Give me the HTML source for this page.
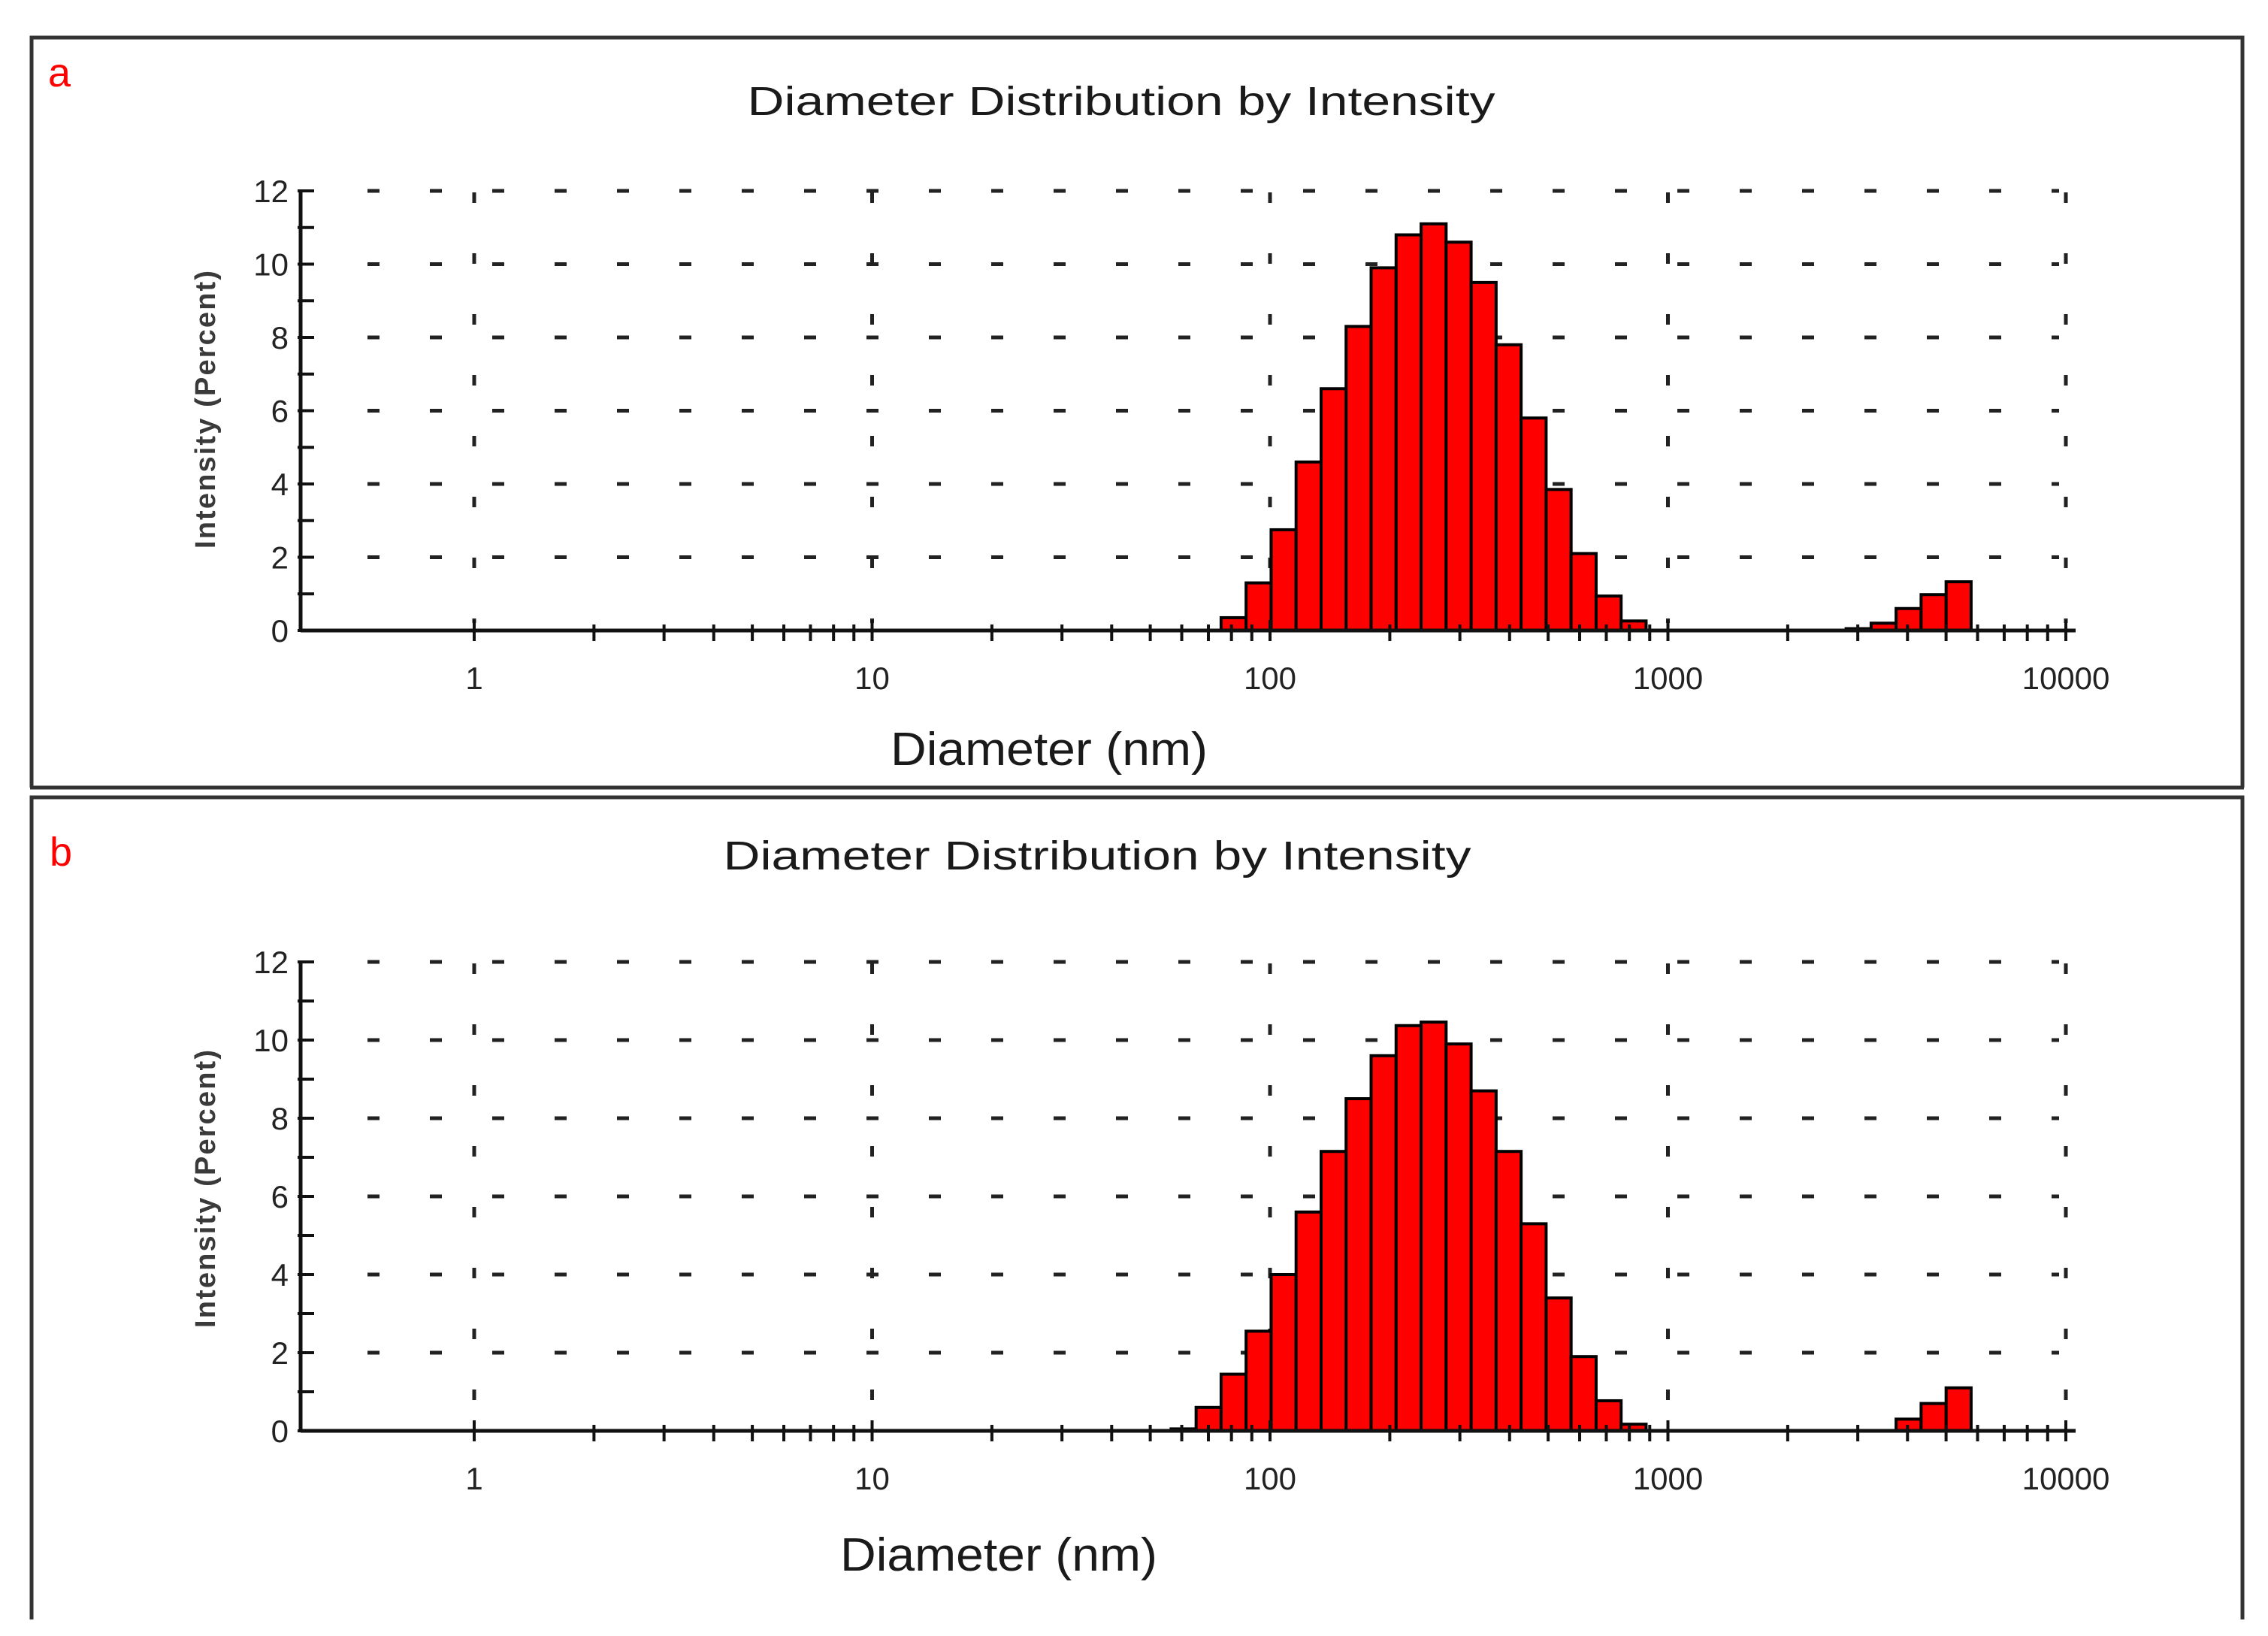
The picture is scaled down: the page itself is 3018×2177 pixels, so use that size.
<!DOCTYPE html>
<html><head><meta charset="utf-8">
<style>
html,body{margin:0;padding:0;background:#fff;}
svg{display:block;}
text{font-family:"Liberation Sans",sans-serif;}
</style></head>
<body>
<svg id="chart" width="3018" height="2177" viewBox="0 0 3018 2177" xmlns="http://www.w3.org/2000/svg">
  <rect x="0" y="0" width="3018" height="2177" fill="#fff"/>
  <g id="frames" stroke="#333" stroke-width="5" fill="none">
    <polyline points="42,1048 42,50 2984,50 2984,1048"/>
    <line x1="40" y1="1048" x2="2986" y2="1048"/>
    <polyline points="42,2155 42,1061 2984,1061 2984,2155"/>
  </g>
  <text x="64" y="115" font-size="54" fill="#f00">a</text>
  <text x="66" y="1152" font-size="54" fill="#f00">b</text>
  <g id="panelA"></g>
  <g id="panelB"></g>
</svg>
<script>
// Data: bin indices (Malvern 70-bin log scale, 0.4–10000 nm) and intensity %
const binsA = [36,37,38,39,40,41,42,43,44,45,46,47,48,49,50,51,52,61,62,63,64,65];
const valuesA = [0.35,1.3,2.75,4.6,6.6,8.3,9.9,10.8,11.1,10.6,9.5,7.8,5.8,3.85,2.1,0.94,0.26,0.05,0.2,0.6,0.98,1.33];
const binsB = [34,35,36,37,38,39,40,41,42,43,44,45,46,47,48,49,50,51,52,63,64,65];
const valuesB = [0.05,0.6,1.45,2.55,4.0,5.6,7.15,8.5,9.6,10.37,10.46,9.9,8.7,7.15,5.3,3.4,1.9,0.77,0.17,0.3,0.7,1.1];
const yTicks = [0,2,4,6,8,10,12];
const xTickValues = [1,10,100,1000,10000];
const xTickLabels = ["1","10","100","1000","10000"];

const NS = "http://www.w3.org/2000/svg";
const BIN_STEP = Math.log10(10000/0.4)/70;
const BAR_SHIFT = 7;
function mk(tag, attrs, parent){const e=document.createElementNS(NS,tag);for(const k in attrs)e.setAttribute(k,attrs[k]);parent.appendChild(e);return e;}
function xScale(d){return 1690 + (Math.log10(d)-2)*529.5;}
function binEdge(k){return 0.4*Math.pow(10,k*BIN_STEP);}

function drawPanel(g, cfg, bins, values){
  const y0 = cfg.y0, pu = cfg.pu;
  const yS = v => y0 - v*pu;
  const xL = 400, xR = 2762;
  const t = mk('text',{x:cfg.titleX,y:cfg.titleY,'font-size':54,'text-anchor':'middle',fill:'#1a1a1a',textLength:995,lengthAdjust:'spacingAndGlyphs'},g);
  t.textContent='Diameter Distribution by Intensity';
  
  
  for(const v of yTicks){ if(v===0) continue;
    const l = mk('line',{x1:489,y1:yS(v),x2:2740,y2:yS(v),stroke:'#222','stroke-width':5,'stroke-dasharray':'16 67'},g);
    
    
  }
  for(const d of xTickValues){
    const l = mk('line',{x1:xScale(d),y1:yS(12)+2,x2:xScale(d),y2:y0-10,stroke:'#222','stroke-width':5,'stroke-dasharray':'14 67'},g);
    
    
  }
  bins.forEach((k,i)=>{
    const xa = xScale(binEdge(k))+BAR_SHIFT, xb = xScale(binEdge(k+1))+BAR_SHIFT;
    const r = mk('rect',{x:xa,y:yS(values[i]),width:xb-xa,height:values[i]*pu,fill:'#ff0000',stroke:'#000','stroke-width':4},g);
    
    
  });
  const xa = mk('line',{x1:xL,y1:y0,x2:xR,y2:y0,stroke:'#111','stroke-width':5},g);
  
  
  for(let dec=1; dec<=1000; dec*=10){
    for(let m=1;m<=9;m++){
      const d = dec*m;
      const major = (m===1);
      const tk = mk('line',{x1:xScale(d),y1:y0-(major?14:8),x2:xScale(d),y2:y0+14,stroke:'#111','stroke-width':4},g);
      
      
    }
  }
  const tk10 = mk('line',{x1:xScale(10000),y1:y0-14,x2:xScale(10000),y2:y0+14,stroke:'#111','stroke-width':4},g);
  
  
  xTickValues.forEach((d,i)=>{
    const tx = mk('text',{x:xScale(d),y:y0+78,'font-size':42,'text-anchor':'middle',fill:'#222'},g);
    tx.textContent = xTickLabels[i];
    
    
  });
  const ya = mk('line',{x1:xL,y1:yS(12)-2,x2:xL,y2:y0+2,stroke:'#111','stroke-width':5},g);
  
  
  for(let v=0; v<=12; v++){
    const tk = mk('line',{x1:xL-4,y1:yS(v),x2:xL+18,y2:yS(v),stroke:'#111','stroke-width':4},g);
    
    
  }
  yTicks.forEach(v=>{
    const tx = mk('text',{x:384,y:yS(v)+15,'font-size':42,'text-anchor':'end',fill:'#222'},g);
    tx.textContent = String(v);
    
    
  });
  const xt = mk('text',{x:cfg.xTitleX,y:cfg.xTitleY,'font-size':62,'text-anchor':'middle',fill:'#1a1a1a',textLength:422,lengthAdjust:'spacingAndGlyphs'},g);
  xt.textContent='Diameter (nm)';
  
  
  const yt = mk('text',{x:0,y:0,'font-size':38,'font-weight':'bold','text-anchor':'middle',fill:'#3a3a3a',textLength:370,lengthAdjust:'spacing',transform:`translate(286,${cfg.yTitleY}) rotate(-90)`},g);
  yt.textContent='Intensity (Percent)';
  
  
}

drawPanel(document.getElementById('panelA'),
  {y0:839, pu:48.75, titleX:1492, titleY:153, xTitleX:1396, xTitleY:1018, yTitleY:545},
  binsA, valuesA);
drawPanel(document.getElementById('panelB'),
  {y0:1904, pu:52, titleX:1460, titleY:1157, xTitleX:1329, xTitleY:2090, yTitleY:1582},
  binsB, valuesB);
</script>
</body></html>
